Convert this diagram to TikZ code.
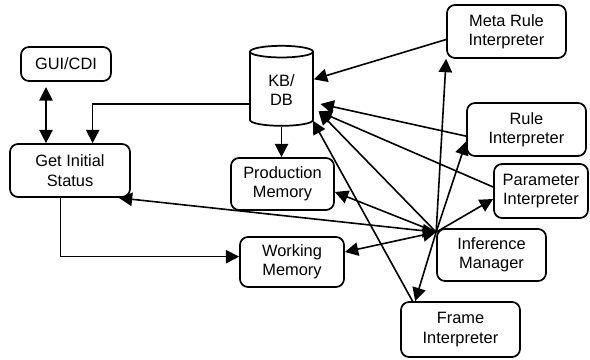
\documentclass[tikz,border=0pt]{standalone}
\usepackage{fontspec}
\setmainfont{Liberation Sans}
\usepackage{tikz}
\usetikzlibrary{positioning}
\usetikzlibrary{shapes.geometric,arrows.meta}
\tikzset{
    procBox/.style={draw, line width=1.3pt, rounded corners=6pt, align=center,
        font=\fontsize{12.3}{14.5}\selectfont, inner sep=1pt}
}
\tikzset{
    dataStore/.style={draw, line width=1.3pt, cylinder, shape border rotate=90,
        aspect=0.4, align=center, font=\fontsize{12.3}{14.5}\selectfont, inner sep=1pt,
        minimum width=47.25pt, minimum height=60pt}
}
\tikzset{
    flowArrow/.style={line width=1.2pt, -{Triangle[length=10pt,width=10pt]}},
    bothArrow/.style={line width=1.2pt, {Triangle[length=10pt,width=10pt]}-{Triangle[length=10pt,width=10pt]}}
}

\begin{document}
\begin{tikzpicture}[x=0.75pt,y=-0.75pt]
			\useasboundingbox (0,0) rectangle (590,360);
			\node[procBox, minimum width=67.5pt, minimum height=25.5pt] (gui) at (66,64) {GUI/CDI};
			\node[procBox, minimum width=90pt, minimum height=39.75pt] (gis) at (70,170.5) {Get Initial\\Status};
			\node[dataStore] (kb) at (281.5,90) {KB/\\DB};
			\node[procBox, minimum width=77.25pt, minimum height=39pt] (pm) at (282.5,184) {Production\\Memory};
			\node[procBox, minimum width=78pt, minimum height=37.5pt] (wm) at (292,262) {Working\\Memory};
			\node[procBox, minimum width=89.25pt, minimum height=39.75pt] (meta) at (506.5,31.5) {Meta Rule\\Interpreter};
			\node[procBox, minimum width=89.25pt, minimum height=39.75pt] (rule) at (526.5,129.5) {Rule\\Interpreter};
			\node[procBox, minimum width=70.5pt, minimum height=40.5pt] (param) at (541,191) {Parameter\\Interpreter};
			\node[procBox, minimum width=81.75pt, minimum height=39pt] (im) at (491.5,255) {Inference\\Manager};
			\node[procBox, minimum width=89.25pt, minimum height=41.25pt] (fi) at (460.5,329.5) {Frame\\Interpreter};
			\coordinate (hub) at ([yshift=-3pt]im.north west);
			\coordinate (kbA) at ([shift={(5pt,-10.5pt)}]kb.east);
			\coordinate (kbB) at ([shift={(3.5pt,-16pt)}]kb.east);
			\coordinate (kbC) at ([shift={(-0.75pt,-23pt)}]kb.east);
			% left side
			\draw[bothArrow, shorten <=4pt] ([xshift=-15pt]gui.south) -- ([xshift=-15pt]gui.south |- gis.north);
			\draw[flowArrow] ([yshift=-10.5pt]kb.west) -| ([xshift=17pt]gis.north);
			\draw[flowArrow] (kb.south) -- (kb.south |- pm.north);
			\draw[flowArrow] ([xshift=-7pt]gis.south) |- ([yshift=4pt]wm.west);
			% into the knowledge base
			\draw[flowArrow] ([yshift=-6pt]meta.west) -- ([yshift=8pt]kb.east);
			\draw[flowArrow] ([yshift=-5pt]rule.west) -- (kbA);
			\draw[flowArrow] ([yshift=3pt]param.west) -- (kbB);
			\draw[flowArrow] (hub) -- (kbB);
			\draw[flowArrow] ([xshift=-36pt]fi.north) -- (kbC);
			% out of the inference manager
			\draw[flowArrow] (hub) -- (meta.south west);
			\draw[flowArrow] (hub) -- ([yshift=-9pt]rule.west);
			\draw[flowArrow] (hub) -- ([yshift=-6pt]param.west);
			\draw[flowArrow] (hub) -- ([xshift=-34pt]fi.north);
			\draw[flowArrow] (hub) -- ([yshift=-6pt]pm.east);
			\draw[bothArrow] ([yshift=7.5pt]wm.east) -- (hub);
			\draw[bothArrow] ([xshift=-9pt]gis.south east) -- (hub);
	\end{tikzpicture}
\end{document}
